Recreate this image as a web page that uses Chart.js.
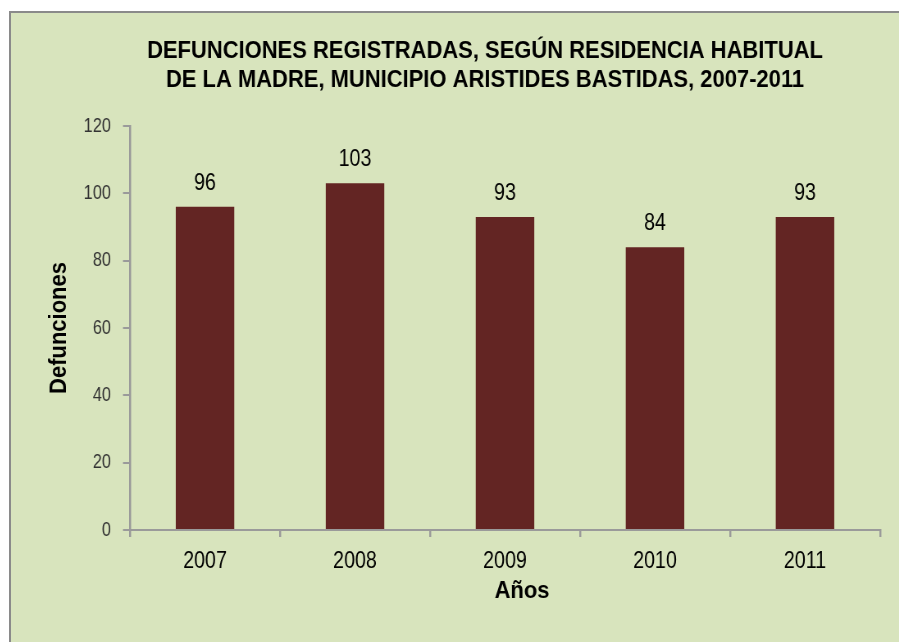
<!DOCTYPE html>
<html>
<head>
<meta charset="utf-8">
<script src="https://cdn.jsdelivr.net/npm/chart.js@4"></script>
<style>
  html, body { margin: 0; padding: 0; background: #ffffff; width: 899px; height: 642px; overflow: hidden; }
  #frame { position: absolute; left: 9px; top: 11px; width: 900px; height: 640px; border-left: 2px solid #8a8a8a; border-top: 2px solid #8a8a8a; background: #d8e4bd; }
  #wrap { position: absolute; left: 11px; top: 13px; width: 1083px; height: 629px; transform: scaleX(0.82); transform-origin: 0 0; }
</style>
</head>
<body>
<div id="frame"></div>
<div id="wrap"><canvas id="c" width="1083" height="629"></canvas></div>
<script>
const categories = ["2007", "2008", "2009", "2010", "2011"];
const defunciones = [96, 103, 93, 84, 93];
const yTicks = [0, 20, 40, 60, 80, 100, 120];
const titleLines = ["DEFUNCIONES REGISTRADAS, SEGÚN RESIDENCIA HABITUAL", "DE LA MADRE, MUNICIPIO ARISTIDES BASTIDAS, 2007-2011"];
const xTitle = "Años";
const yTitle = "Defunciones";

// Text is drawn with a regular sans face; the canvas is shown squeezed horizontally
// (factor SX) so that it reads like the narrow face of the original.
const SX = 0.82;
const BOLD_SX = 0.915;
const FONT = "'Liberation Sans Narrow', 'Liberation Sans', Arial, sans-serif";
const px = v => v / SX; // displayed horizontal px -> canvas px

function boldText(ctx, text, cx, y) {
  ctx.save();
  ctx.translate(cx, y);
  ctx.scale(BOLD_SX / SX, 1);
  ctx.fillText(text, 0, 0);
  ctx.restore();
}

const textPlugin = {
  id: 'textPlugin',
  afterDatasetsDraw(chart) {
    const ctx = chart.ctx;
    const meta = chart.getDatasetMeta(0);
    ctx.save();
    ctx.fillStyle = '#000000';
    ctx.font = "24px " + FONT;
    ctx.textAlign = 'center';
    ctx.textBaseline = 'alphabetic';
    meta.data.forEach((bar, i) => {
      ctx.fillText(String(chart.data.datasets[0].data[i]), bar.x, bar.y - 17);
    });
    ctx.restore();
  },
  afterDraw(chart) {
    const ctx = chart.ctx;
    const area = chart.chartArea;
    ctx.save();
    ctx.fillStyle = '#000000';
    ctx.textAlign = 'center';
    ctx.textBaseline = 'alphabetic';
    ctx.font = "bold 24px " + FONT;
    boldText(ctx, titleLines[0], px(474), 45);
    boldText(ctx, titleLines[1], px(474), 74);
    boldText(ctx, xTitle, px(511), 585);
    // vertical axis title
    ctx.save();
    ctx.translate(px(48), (area.top + area.bottom) / 2);
    ctx.scale(1 / SX, 1);
    ctx.rotate(-Math.PI / 2);
    ctx.scale(BOLD_SX, 1);
    ctx.textBaseline = 'middle';
    ctx.fillText(yTitle, 0, 0);
    ctx.restore();
    ctx.restore();
  }
};

new Chart(document.getElementById('c'), {
  type: 'bar',
  data: {
    labels: categories,
    datasets: [{
      label: yTitle,
      data: defunciones,
      backgroundColor: '#632523',
      borderWidth: 0,
      barPercentage: 0.39,
      categoryPercentage: 1.0
    }]
  },
  options: {
    responsive: false,
    animation: false,
    devicePixelRatio: 1,
    layout: { padding: { left: 0, right: 1083 - px(869), top: 113, bottom: 0 } },
    plugins: {
      legend: { display: false },
      title: { display: false },
      tooltip: { enabled: false }
    },
    scales: {
      x: {
        afterFit(scale) { scale.height = 112; },
        grid: { display: true, drawOnChartArea: false, drawTicks: true, tickLength: 7, color: '#9a9a9a', lineWidth: px(2), offset: true },
        border: { display: true, color: '#9a9a9a', width: 2 },
        ticks: { color: '#000000', padding: 10, font: { family: FONT, size: 24 } }
      },
      y: {
        min: 0,
        max: 120,
        afterFit(scale) { scale.width = px(119); },
        afterBuildTicks(scale) { scale.ticks = yTicks.map(v => ({ value: v })); },
        grid: { display: true, drawOnChartArea: false, drawTicks: true, tickLength: px(7), color: '#9a9a9a', lineWidth: 2 },
        border: { display: true, color: '#9a9a9a', width: px(2) },
        ticks: { color: '#333333', padding: px(12), font: { family: FONT, size: 20 } },
        title: { display: false, text: yTitle }
      }
    }
  },
  plugins: [textPlugin]
});
</script>
</body>
</html>
